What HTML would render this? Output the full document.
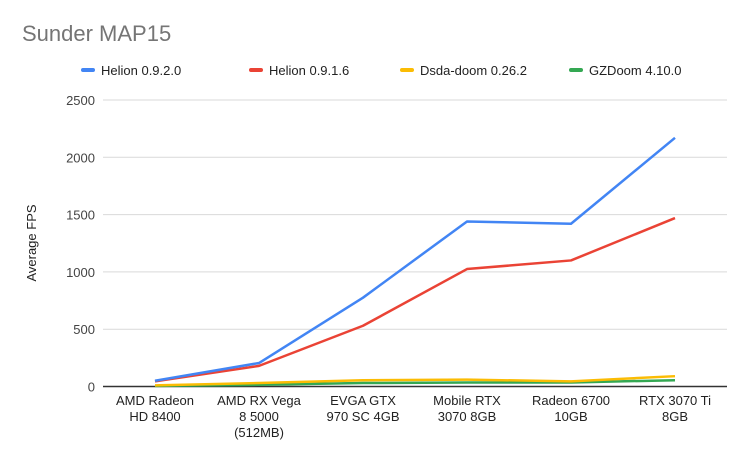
<!DOCTYPE html>
<html><head><meta charset="utf-8"><style>
body{margin:0;background:#fff;font-family:"Liberation Sans",Arial,sans-serif}
svg text{font-family:"Liberation Sans",Arial,sans-serif}
</style></head><body>
<svg id="c" width="749" height="460">
<rect width="749" height="460" fill="#fff"/>
<text x="22" y="41" font-size="22" fill="#757575">Sunder MAP15</text>
<text transform="translate(36,243) rotate(-90)" text-anchor="middle" font-size="13" fill="#222">Average FPS</text>
<g id="legend"></g><g id="grid"></g><g id="xl"></g><g id="lines"></g>
</svg>
<script>
const categories=[["AMD Radeon","HD 8400"],["AMD RX Vega","8 5000","(512MB)"],["EVGA GTX","970 SC 4GB"],["Mobile RTX","3070 8GB"],["Radeon 6700","10GB"],["RTX 3070 Ti","8GB"]];
const seriesNames=["Helion 0.9.2.0","Helion 0.9.1.6","Dsda-doom 0.26.2","GZDoom 4.10.0"];
const seriesColors=["#4285f4","#ea4335","#fbbc04","#34a853"];
const helion0920=[50,205,775,1440,1420,2170];
const helion0916=[45,180,530,1025,1100,1470];
const dsda=[10,30,55,60,45,90];
const gzdoom=[5,15,30,35,35,55];
const yTicks=[0,500,1000,1500,2000,2500];
const series=[helion0920,helion0916,dsda,gzdoom];
const NS="http://www.w3.org/2000/svg";
const x=i=>155+i*104, y=v=>386.5-v*(286.5/2500);
function mk(t,a,p){const e=document.createElementNS(NS,t);for(const k in a)e.setAttribute(k,a[k]);p.appendChild(e);return e;}
const g=document.getElementById('grid');
yTicks.forEach(v=>{
 const l=mk('line',{x1:103,x2:727,y1:y(v),y2:y(v),stroke:v?'#d9d9d9':'#333','stroke-width':v?1:1.5},g);
 
 
 const t=mk('text',{x:95,y:y(v)+5,'text-anchor':'end','font-size':13,fill:'#444'},g);t.textContent=v;
 
 
});
const xl=document.getElementById('xl');
categories.forEach((c,i)=>{
 c.forEach((s,j)=>{const t=mk('text',{x:x(i),y:405+j*16,'text-anchor':'middle','font-size':13,fill:'#222'},xl);t.textContent=s;
 
 });
});
const L=document.getElementById('lines');
for(let s=series.length-1;s>=0;s--){
 const p=mk('polyline',{points:series[s].map((v,i)=>x(i)+','+y(v)).join(' '),fill:'none',stroke:seriesColors[s],'stroke-width':2.5,'stroke-linejoin':'round'},L);
 
 
}
const lg=document.getElementById('legend');
const lx=[81,249,400,569];
seriesNames.forEach((n,i)=>{
 const r=mk('rect',{x:lx[i],y:68,width:14,height:4,rx:2,fill:seriesColors[i]},lg);
 
 
 const t=mk('text',{x:lx[i]+20,y:75,'font-size':13,fill:'#222'},lg);t.textContent=n;
 
 
});
</script>
</body></html>
